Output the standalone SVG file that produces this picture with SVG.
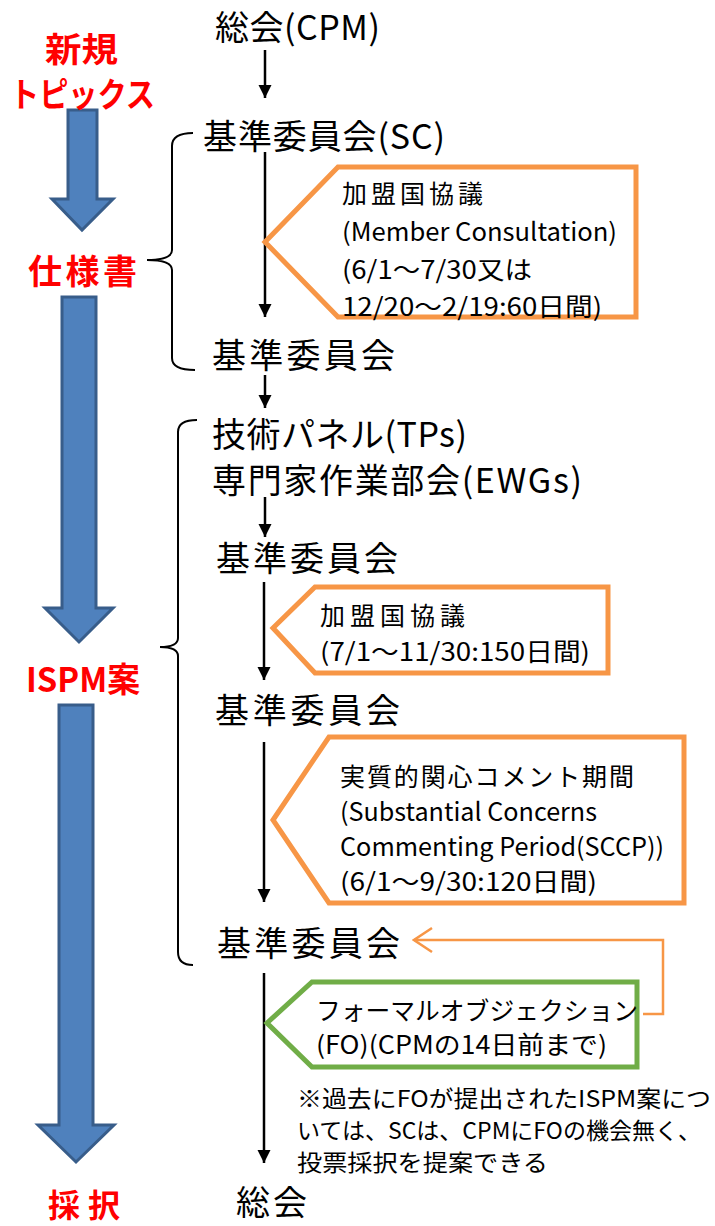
<svg xmlns="http://www.w3.org/2000/svg" width="715" height="1226" viewBox="0 0 715 1226">
<style>
text{font-family:"Noto Sans CJK JP","Noto Sans",sans-serif;dominant-baseline:central;fill:#000}
.h{font-size:34px}
.c{font-size:25px}
.n{font-size:23px}
.r{font-size:34px;font-weight:bold;fill:#FF0000}
.blue{fill:#4F81BD;stroke:#385D8A;stroke-width:3;stroke-linejoin:miter}
.ar{stroke:#000;stroke-width:2.5;fill:none;marker-end:url(#ah)}
.br{stroke:#000;stroke-width:2;fill:none}
.oc{fill:#fff;stroke:#F79646;stroke-width:5;stroke-linejoin:miter}
.gc{fill:#fff;stroke:#70AD47;stroke-width:5;stroke-linejoin:miter}
</style>
<defs>
<marker id="ah" viewBox="0 0 10 10" refX="10" refY="5" markerWidth="13" markerHeight="14" markerUnits="userSpaceOnUse" orient="auto">
<path d="M0,0 L10,5 L0,10 z" fill="#000"/>
</marker>
<marker id="oh" viewBox="0 0 22 28" refX="20" refY="14" markerWidth="22" markerHeight="28" markerUnits="userSpaceOnUse" orient="auto">
<path d="M2,2 L20,14 L2,26" fill="none" stroke="#F79646" stroke-width="2.5"/>
</marker>
</defs>

<g id="stage-arrows">
<path class="blue" d="M68,110 L97,110 L97,199 L113,199 L82,230 L52,199 L68,199 Z"/>
<path class="blue" d="M62,297 L96,297 L96,608 L113,608 L79,642 L45,608 L62,608 Z"/>
<path class="blue" d="M59,705 L93,705 L93,1125 L114,1125 L76,1162 L38,1125 L59,1125 Z"/>
</g>

<g id="stage-labels">
<text class="r" x="45" y="47" textLength="73" lengthAdjust="spacingAndGlyphs">新規</text>
<text class="r" x="10" y="92" textLength="145" lengthAdjust="spacingAndGlyphs">トピックス</text>
<text class="r" x="28" y="269" textLength="109" lengthAdjust="spacing">仕様書</text>
<text class="r" x="26" y="677" textLength="114" lengthAdjust="spacingAndGlyphs">ISPM案</text>
<text class="r" x="48" y="1203" textLength="72" lengthAdjust="spacing" style="font-size:32px">採択</text>
</g>

<g id="braces">
<path class="br" d="M193,133 Q172,133 172,146 L172,250 Q172,260 147,260 Q172,260 172,270 L172,358 Q172,370 195,370"/>
<path class="br" d="M197,420 Q178,420 178,432 L178,638 Q178,647 160,647 Q178,647 178,656 L178,952 Q178,965 193,965"/>
</g>

<g id="connectors">
<line class="ar" x1="265" y1="50" x2="265" y2="98"/>
<line class="ar" x1="265" y1="152" x2="265" y2="317"/>
<line class="ar" x1="265" y1="375" x2="265" y2="408"/>
<line class="ar" x1="265" y1="497" x2="265" y2="537"/>
<line class="ar" x1="264" y1="582" x2="264" y2="680"/>
<line class="ar" x1="264" y1="742" x2="264" y2="902"/>
<line class="ar" x1="264" y1="973" x2="264" y2="1163"/>
<polyline points="643,1014 663,1014 663,940 414,940" fill="none" stroke="#F79646" stroke-width="2.5" marker-end="url(#oh)"/>
</g>

<g id="n-cpm"><text class="h" x="215" y="25" textLength="165" lengthAdjust="spacing">総会(CPM)</text></g>
<g id="n-sc1"><text class="h" x="203" y="134" textLength="242" lengthAdjust="spacing">基準委員会(SC)</text></g>
<g id="n-sc2"><text class="h" x="212" y="353" textLength="183" lengthAdjust="spacing">基準委員会</text></g>
<g id="n-tp">
<text class="h" x="212" y="432" textLength="255" lengthAdjust="spacing">技術パネル(TPs)</text>
<text class="h" x="212" y="478" textLength="370" lengthAdjust="spacing">専門家作業部会(EWGs)</text>
</g>
<g id="n-sc3"><text class="h" x="216" y="556" textLength="182" lengthAdjust="spacing">基準委員会</text></g>
<g id="n-sc4"><text class="h" x="215" y="708" textLength="185" lengthAdjust="spacing">基準委員会</text></g>
<g id="n-sc5"><text class="h" x="217" y="941" textLength="183" lengthAdjust="spacing">基準委員会</text></g>
<g id="n-cpm2"><text class="h" x="236" y="1200" textLength="71" lengthAdjust="spacing">総会</text></g>

<g id="callout-mc1">
<polygon class="oc" points="265,242 338,167 636,167 636,317 338,317"/>
<text class="c" x="342" y="192" textLength="141" lengthAdjust="spacing">加盟国協議</text>
<text class="c" x="342" y="230" textLength="275" lengthAdjust="spacingAndGlyphs">(Member Consultation)</text>
<text class="c" x="342" y="268" textLength="190" lengthAdjust="spacingAndGlyphs">(6/1～7/30又は</text>
<text class="c" x="342" y="305" textLength="260" lengthAdjust="spacingAndGlyphs">12/20～2/19:60日間)</text>
</g>

<g id="callout-mc2">
<polygon class="oc" points="273,628 315,587 608,587 608,673 315,673"/>
<text class="c" x="320" y="614" textLength="145" lengthAdjust="spacing">加盟国協議</text>
<text class="c" x="320" y="650" textLength="270" lengthAdjust="spacingAndGlyphs">(7/1～11/30:150日間)</text>
</g>

<g id="callout-sccp">
<polygon class="oc" points="273,820 329,737 684,737 684,903 329,903"/>
<text class="c" x="340" y="775" textLength="294" lengthAdjust="spacing">実質的関心コメント期間</text>
<text class="c" x="340" y="810" textLength="257" lengthAdjust="spacingAndGlyphs">(Substantial Concerns</text>
<text class="c" x="340" y="845" textLength="324" lengthAdjust="spacingAndGlyphs">Commenting Period(SCCP))</text>
<text class="c" x="340" y="880" textLength="257" lengthAdjust="spacingAndGlyphs">(6/1～9/30:120日間)</text>
</g>

<g id="callout-fo">
<polygon class="gc" points="267,1023 312,982 637,982 637,1067 312,1067"/>
<text class="c" x="316" y="1009" textLength="322" lengthAdjust="spacingAndGlyphs">フォーマルオブジェクション</text>
<text class="c" x="316" y="1043" textLength="291" lengthAdjust="spacingAndGlyphs">(FO)(CPMの14日前まで)</text>
</g>

<g id="note">
<text class="n" x="297" y="1097" textLength="414" lengthAdjust="spacingAndGlyphs">※過去にFOが提出されたISPM案につ</text>
<text class="n" x="297" y="1129" textLength="404" lengthAdjust="spacingAndGlyphs">いては、SCは、CPMにFOの機会無く、</text>
<text class="n" x="297" y="1161" textLength="251" lengthAdjust="spacingAndGlyphs">投票採択を提案できる</text>
</g>
</svg>
